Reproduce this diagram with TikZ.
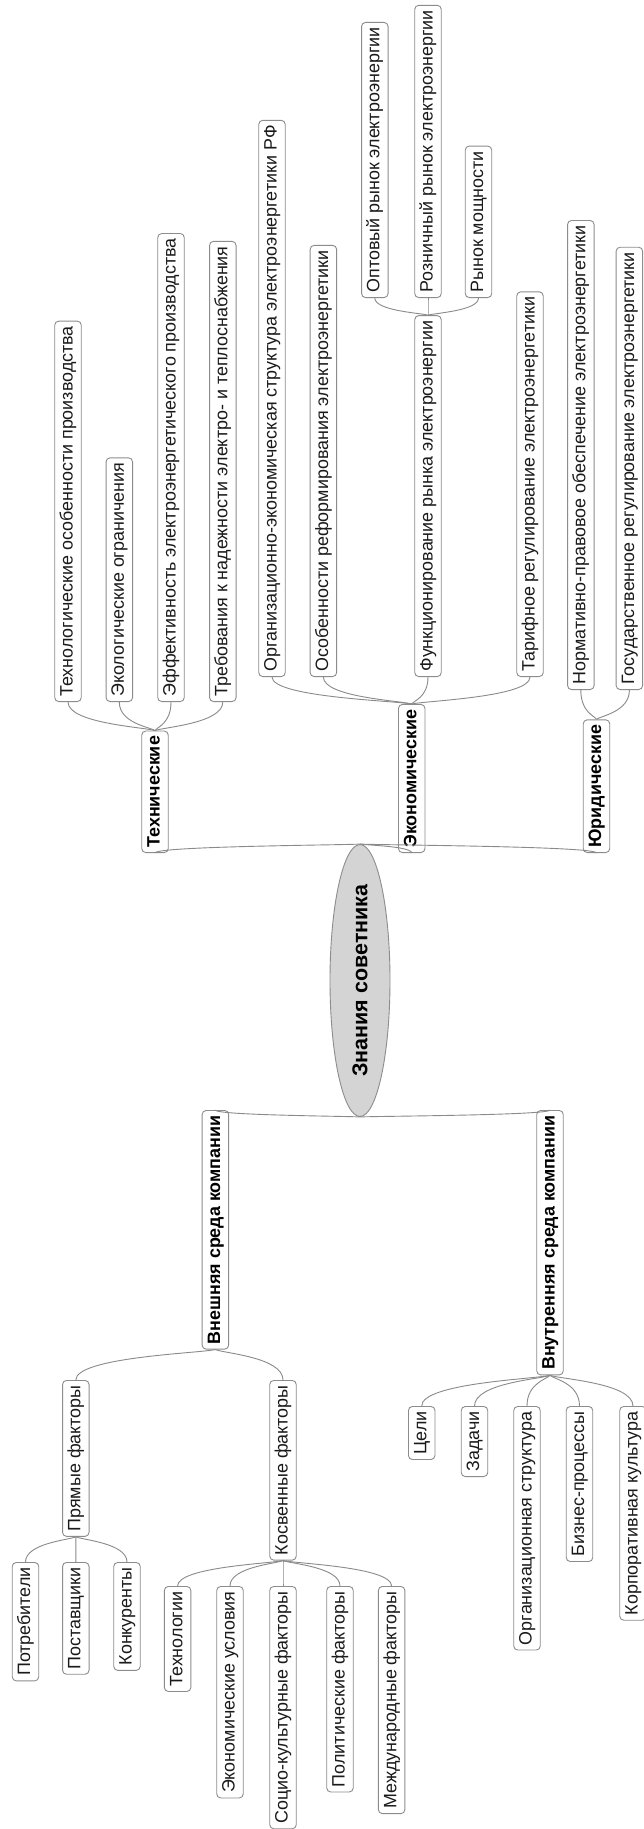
\documentclass[tikz,border=0pt]{standalone}
\usepackage{fontspec}
\setmainfont{Liberation Sans}
\usetikzlibrary{calc,shapes.geometric}
\definecolor{bord}{HTML}{8C8C8C}
\definecolor{edgec}{HTML}{8A8A8A}
\definecolor{ellfill}{HTML}{D4D4D4}
\definecolor{txt}{HTML}{1A1A1A}
\begin{document}
\begin{tikzpicture}[x=1pt,y=-1pt,
  box/.style={draw=bord, line width=0.9pt, rounded corners=4pt, fill=white, rotate=90, text=txt,
    font=\fontsize{17.9}{21}\selectfont, inner xsep=5pt, inner ysep=0pt,
    minimum height=26.5pt, text height=13pt, text depth=3.7pt},
  bbox/.style={box, text=black, font=\fontsize{17.9}{21}\selectfont\bfseries},
  mm/.style={to path={.. controls ($(\tikztostart)!0.12!(\tikztotarget)$) and ($(\tikztotarget |- \tikztostart)!0.25!(\tikztotarget)$) .. (\tikztotarget)}},
  link/.style={draw=edgec, line width=0.9pt}
]
\fill[white] (0,0) rectangle (644,1829);
\useasboundingbox (0,0) rectangle (644,1829);

% central
\node[ellipse, draw=bord, line width=0.9pt, fill=ellfill, rotate=90, inner sep=0pt,
  minimum width=209pt, minimum height=60pt, font=\fontsize{21.5}{25}\selectfont\bfseries]
  (root) at (360,980.5) {Знания советника};

% upper level-1
\node[bbox, anchor=west] (tech)  at (155,853)   {Технические};
\node[bbox, anchor=west] (econ)  at (411.7,853) {Экономические};
\node[bbox, anchor=west] (legal) at (596.5,853) {Юридические};

% technical leaves
\node[box, anchor=west] (t1) at (68,702)    {Технологические особенности производства};
\node[box, anchor=west] (t2) at (119.3,702) {Экологические ограничения};
\node[box, anchor=west] (t3) at (171,702)   {Эффективность электроэнергетического производства};
\node[box, anchor=west] (t4) at (222.8,702) {Требования к надежности электро- и теплоснабжения};

% economic leaves
\node[box, anchor=west] (e1) at (272,677)   {Организационно-экономическая структура электроэнергетики РФ};
\node[box, anchor=west] (e2) at (323.4,677) {Особенности реформирования электроэнергетики};
\node[box, anchor=west] (e3) at (428,677)   {Функционирование рынка электроэнергии};
\node[box, anchor=west] (e4) at (530,677)   {Тарифное регулирование электроэнергетики};
\node[box, anchor=west] (e31) at (374.8,298) {Оптовый рынок электроэнергии};
\node[box, anchor=west] (e32) at (428,298)   {Розничный рынок электроэнергии};
\node[box, anchor=west] (e33) at (478.5,298) {Рынок мощности};

% legal leaves
\node[box, anchor=west] (j1) at (580.8,690) {Нормативно-правовое обеспечение электроэнергетики};
\node[box, anchor=west] (j2) at (629.4,690) {Государственное регулирование электроэнергетики};

% lower level-1
\node[bbox, anchor=east] (ext) at (215.4,1110) {Внешняя среда компании};
\node[bbox, anchor=east] (int) at (550,1110)   {Внутренняя среда компании};

% external
\node[box, anchor=east] (dir) at (75.8,1380) {Прямые факторы};
\node[box, anchor=east] (ind) at (283,1380)  {Косвенные факторы};
\node[box, anchor=east] (d1) at (25.5,1562) {Потребители};
\node[box, anchor=east] (d2) at (75.8,1562) {Поставщики};
\node[box, anchor=east] (d3) at (127,1562)  {Конкуренты};
\node[box, anchor=east] (i1) at (177.6,1586) {Технологии};
\node[box, anchor=east] (i2) at (230,1586)   {Экономические условия};
\node[box, anchor=east] (i3) at (283,1586)   {Социо-культурные факторы};
\node[box, anchor=east] (i4) at (340,1586)   {Политические факторы};
\node[box, anchor=east] (i5) at (391.6,1586) {Международные факторы};

% internal
\node[box, anchor=east] (n1) at (421.7,1406) {Цели};
\node[box, anchor=east] (n2) at (474.5,1406) {Задачи};
\node[box, anchor=east] (n3) at (527,1406)   {Организационная структура};
\node[box, anchor=east] (n4) at (579.5,1406) {Бизнес-процессы};
\node[box, anchor=east] (n5) at (633,1406)   {Корпоративная культура};

% connectors upper
\foreach \c in {tech,econ,legal} \draw[link] (root.east) to[mm] (\c.west);
\foreach \c in {t1,t2,t3,t4} \draw[link] (tech.east) to[mm] (\c.west);
\foreach \c in {e1,e2,e3,e4} \draw[link] (econ.east) to[mm] (\c.west);
\foreach \c in {e31,e32,e33} \draw[link] (e3.east) to[mm] (\c.west);
\foreach \c in {j1,j2} \draw[link] (legal.east) to[mm] (\c.west);
% connectors lower
\foreach \c in {ext,int} \draw[link] (root.west) to[mm] (\c.east);
\foreach \c in {dir,ind} \draw[link] (ext.west) to[mm] (\c.east);
\foreach \c in {d1,d2,d3} \draw[link] (dir.west) to[mm] (\c.east);
\foreach \c in {i1,i2,i3,i4,i5} \draw[link] (ind.west) to[mm] (\c.east);
\foreach \c in {n1,n2,n3,n4,n5} \draw[link] (int.west) to[mm] (\c.east);
\end{tikzpicture}
\end{document}
